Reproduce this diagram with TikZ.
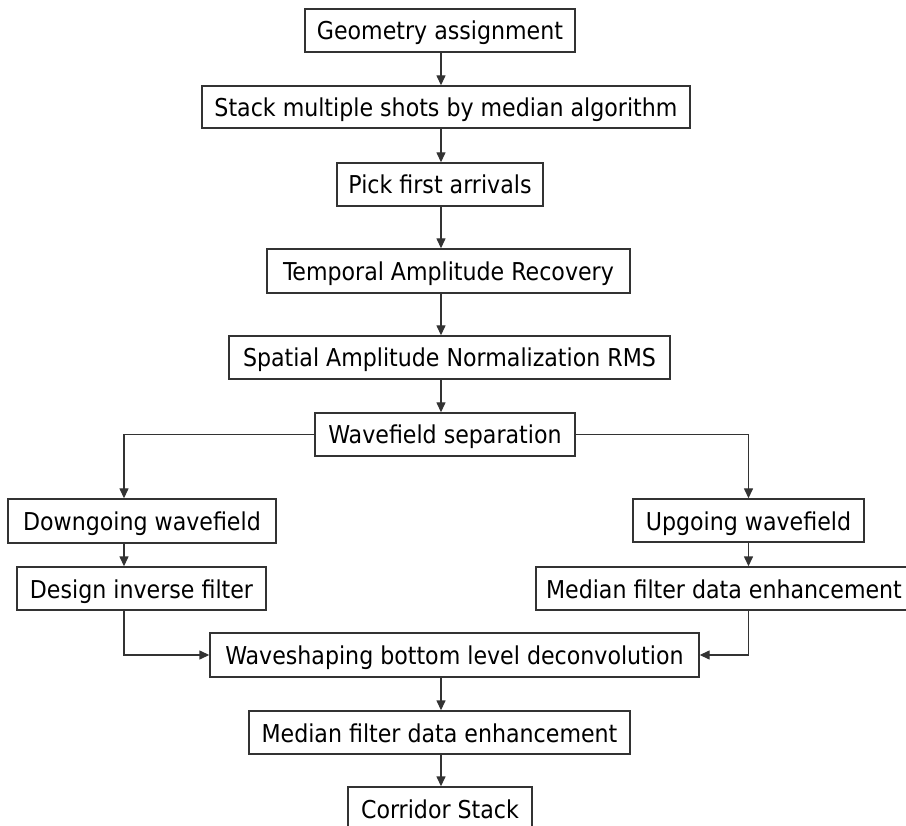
\documentclass[tikz,border=0pt]{standalone}
\usepackage{fontspec}
\setmainfont{DejaVu Sans Condensed}
\usetikzlibrary{arrows.meta}
\definecolor{edge}{HTML}{333333}
\begin{document}
\begin{tikzpicture}[x=1pt,y=-1pt,
  box/.style={draw=edge, line width=1.4pt, inner sep=0pt, anchor=center,
    text height=21pt, text depth=2pt,
    font=\fontsize{24.6}{24.6}\selectfont, text=black},
  arr/.style={draw=edge, line width=1.4pt, -{Triangle[length=10pt,width=9pt]}}]
\useasboundingbox (0,0) rectangle (906,826);
\coordinate (ax) at (441,0);
\coordinate (lx) at (124,0);
\node[box, minimum width=270pt, minimum height=43pt] (b1) at (440,30.5) {Geometry assignment};
\node[box, minimum width=488pt, minimum height=42pt] (b2) at (446,107) {Stack multiple shots by median algorithm};
\node[box, minimum width=206pt, minimum height=43pt] (b3) at (440,184.5) {Pick first arrivals};
\node[box, minimum width=363pt, minimum height=44pt] (b4) at (448.5,271) {Temporal Amplitude Recovery};
\node[box, minimum width=441pt, minimum height=43pt] (b5) at (449.5,357.5) {Spatial Amplitude Normalization RMS};
\node[box, minimum width=260pt, minimum height=43pt] (b6) at (445,434.5) {Wavefield separation};
\node[box, minimum width=268pt, minimum height=44pt] (dn) at (142,521) {Downgoing wavefield};
\node[box, minimum width=231pt, minimum height=43pt] (up) at (748.5,520.5) {Upgoing wavefield};
\node[box, minimum width=249pt, minimum height=43pt] (di) at (141.5,588.5) {Design inverse filter};
\node[box, minimum width=376pt, minimum height=43pt] (mr) at (724,588.5) {Median filter data enhancement};
\node[box, minimum width=489pt, minimum height=44pt] (ws) at (454.5,655) {Waveshaping bottom level deconvolution};
\node[box, minimum width=381pt, minimum height=43pt] (mb) at (439.5,732.5) {Median filter data enhancement};
\node[box, minimum width=184pt, minimum height=43pt] (cs) at (440,808.5) {Corridor Stack};
\draw[arr] (b1.south -| ax) -- (b2.north -| ax);
\draw[arr] (b2.south -| ax) -- (b3.north -| ax);
\draw[arr] (b3.south -| ax) -- (b4.north -| ax);
\draw[arr] (b4.south -| ax) -- (b5.north -| ax);
\draw[arr] (b5.south -| ax) -- (b6.north -| ax);
\draw[arr] (b6.west) -| (dn.north -| lx);
\draw[arr] (dn.south -| lx) -- (di.north -| lx);
\draw[arr] (di.south -| lx) |- (ws.west);
\draw[arr] (b6.east) -| (up.north);
\draw[arr] (up.south) -- (mr.north -| up.south);
\draw[arr] (mr.south -| up.south) |- (ws.east);
\draw[arr] (ws.south -| ax) -- (mb.north -| ax);
\draw[arr] (mb.south -| ax) -- (cs.north -| ax);
\end{tikzpicture}
\end{document}
